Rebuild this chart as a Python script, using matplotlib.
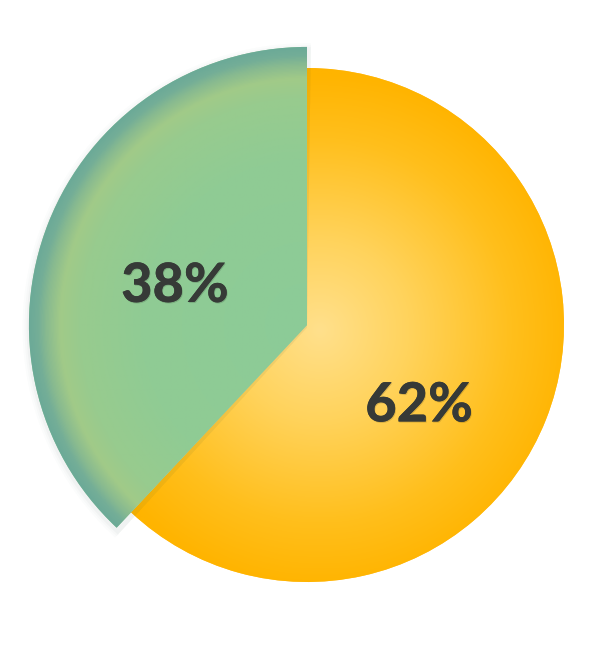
import numpy as np
import matplotlib
matplotlib.use("Agg")
import matplotlib.pyplot as plt
from matplotlib.colors import LinearSegmentedColormap
from matplotlib.patches import Wedge
import matplotlib.patheffects as pe

# ---- data ----
categories = ["Green", "Yellow"]
values = [38, 62]
labels = ["38%", "62%"]

# ---- style ----
W, H, DPI = 614, 650, 100
fig = plt.figure(figsize=(W / DPI, H / DPI), dpi=DPI)
ax = fig.add_axes([0, 0, 1, 1])
ax.set_axis_off()
R_PX = 257.0
cx, cy = 307.0, 325.0
xl = (-cx / R_PX, (W - cx) / R_PX)
yl = (-(H - cy) / R_PX, cy / R_PX)

wedges, _ = ax.pie(values, startangle=90, counterclock=True,
                   colors=["#8ecb96", "#ffc640"], radius=1.0,
                   wedgeprops=dict(linewidth=0))
green_r = 1.082
wedges[0].set_radius(green_r)
wedges[0].set_zorder(3)
wedges[1].set_zorder(1)
ax.set_xlim(*xl)
ax.set_ylim(*yl)
ax.set_aspect("equal")

nx, ny = 700, 740
xs = np.linspace(xl[0], xl[1], nx)
ys = np.linspace(yl[0], yl[1], ny)
X, Y = np.meshgrid(xs, ys)

# yellow radial gradient
ry = np.hypot(X - 0.05, Y + 0.02) / 1.0
cmap_y = LinearSegmentedColormap.from_list("y", [
    (0.0, "#ffe08c"), (0.35, "#ffd35c"), (0.75, "#ffbf1c"), (1.0, "#ffb400")])
im1 = ax.imshow(np.clip(ry, 0, 1), extent=[xl[0], xl[1], yl[0], yl[1]],
                origin="lower", cmap=cmap_y, vmin=0, vmax=1, zorder=1.5,
                interpolation="bilinear")
im1.set_clip_path(wedges[1])

# soft shadow for the green slice
t1, t2 = wedges[0].theta1, wedges[0].theta2
for dr, a in [(0.025, 0.015), (0.017, 0.02), (0.009, 0.03)]:
    sh = Wedge((0.0, -0.01), green_r + dr, t1 - 0.8, t2 + 0.8,
               facecolor="#2f5548", alpha=a, linewidth=0, zorder=2)
    ax.add_patch(sh)

rg = np.hypot(X, Y) / green_r
cmap_g = LinearSegmentedColormap.from_list("g", [
    (0.0, "#8ccb98"), (0.6, "#90cb94"), (0.82, "#98cb8e"),
    (0.89, "#a1ca88"), (0.94, "#88ba90"), (0.97, "#74ae97"), (1.0, "#6caa98")])
im2 = ax.imshow(np.clip(rg, 0, 1), extent=[xl[0], xl[1], yl[0], yl[1]],
                origin="lower", cmap=cmap_g, vmin=0, vmax=1, zorder=3.5,
                interpolation="bilinear")
im2.set_clip_path(wedges[0])

# labels
label_pos = [(-0.514, 0.150), (0.436, -0.315)]
for lab, (lx, ly) in zip(labels, label_pos):
    ax.text(lx, ly, lab, ha="center", va="center", fontsize=39,
            fontfamily="Lato", fontweight="black", color="#363a37", zorder=5,
            path_effects=[pe.withSimplePatchShadow(offset=(0.6, -0.8),
                                                   shadow_rgbFace="#000000",
                                                   alpha=0.15),
                          pe.Normal()])

fig.savefig("out.png", dpi=DPI, facecolor="white")
